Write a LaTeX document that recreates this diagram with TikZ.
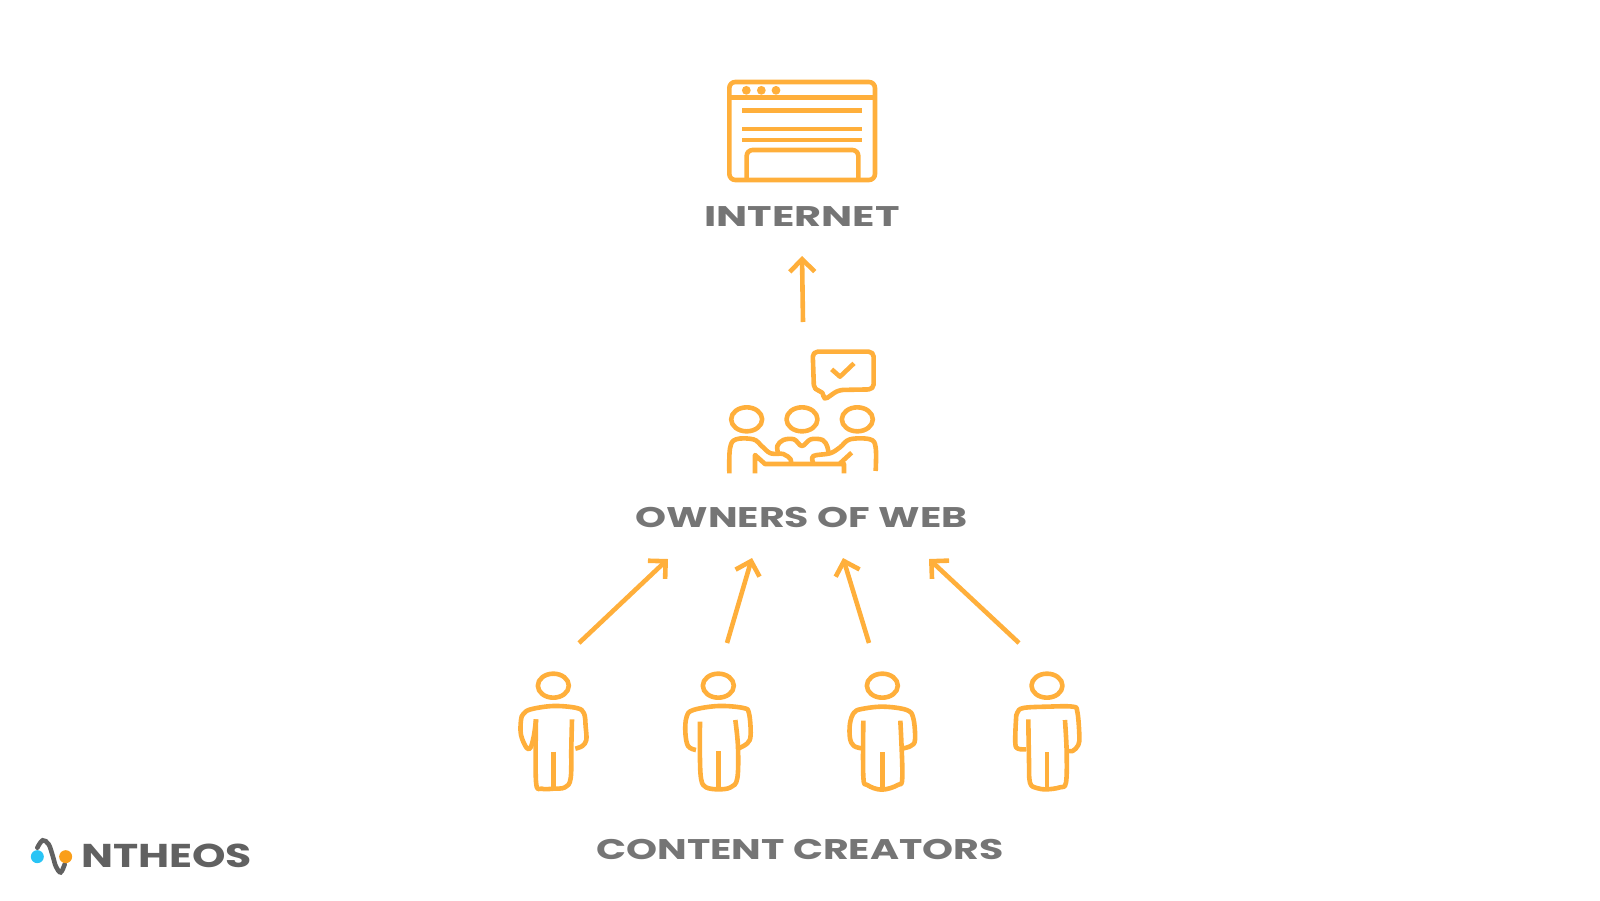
\documentclass[tikz,border=0pt]{standalone}
\usepackage{fontspec}
\usetikzlibrary{arrows.meta}
\newfontfamily\headfont{Poppins}[FakeStretch=1.39]
\newfontfamily\webfont{Poppins}[FakeStretch=1.46]
\newfontfamily\logofont{Poppins}[FakeStretch=1.29]
\definecolor{colO}{rgb}{1,.686,.231}
\definecolor{colG}{rgb}{.46,.46,.46}
\definecolor{colL}{rgb}{.38,.38,.38}
\definecolor{colC}{rgb}{.16,.77,.96}
\definecolor{colA}{rgb}{.98,.62,.1}
\tikzstyle{icon}=[line width=4.6pt,colO,line cap=butt,line join=round]
\tikzstyle{zoomed}=[x=.3333pt,y=-.3333pt]
\tikzstyle{up}=[line width=4.6pt,colO,-{Straight Barb[length=12.5pt,width=25pt,line width=4.6pt]}]
\tikzstyle{heading}=[colG,inner sep=0pt,font=\headfont\bfseries\fontsize{28.4}{30}\selectfont]
\tikzstyle{curve}=[smooth,tension=.6]
\begin{document}
\begin{tikzpicture}[x=1pt,y=-1pt]
		\useasboundingbox (0,0) rectangle (1600,900);
		\node[heading,font=\webfont\bfseries\fontsize{28.4}{30}\selectfont] (internet) at (802,217) {INTERNET};
		\node[heading] (owners) at (801.5,517) {OWNERS OF WEB};
		\node[heading] (creators) at (800,849) {CONTENT CREATORS};
		\begin{scope}[shift={(700,60)},zoomed]
			\draw[icon,rounded corners=6pt] (88,66) rectangle (525,360);
			\draw[icon] (88,113)--(525,113) (127,152)--(486,152) (127,207)--(486,207) (127,240)--(486,240);
			\draw[icon,rounded corners=6pt] (140,360)--(140,270)--(475,270)--(475,360);
			\fill[colO] (139,91) circle (4.4pt) (184,91) circle (4.4pt) (228,91) circle (4.4pt);
		\end{scope}
		\begin{scope}[shift={(700,340)},zoomed]
			\draw[icon,rounded corners=5pt] (338,35)--(521,35)--(521,148)--(415,150)--(370,182)--(372,155)--(342,150)--cycle;
			\draw[icon] (395,88)--(420,110)--(462,70);
			\draw[icon] (140,238) circle[x radius=15.5pt,y radius=12pt] (306,238) circle[x radius=15.5pt,y radius=12pt] (472,238) circle[x radius=15.5pt,y radius=12pt];
			\draw[icon] plot[curve] coordinates {(88,400) (90,325) (108,298) (160,298) (185,318) (212,340) (250,342) (272,358) (272,370)};
			\draw[icon] plot[curve] coordinates {(235,342) (232,318) (250,300) (282,298) (306,318) (332,298) (368,300) (382,320) (385,338)};
			\draw[icon] plot[curve] coordinates {(340,370) (340,348) (390,340) (420,322) (450,298) (510,298) (527,322) (527,393)};
			\draw[icon] (165,400)--(165,345)--(195,372)--(405,372)--(432,372)--(432,400) (418,372)--(455,338);
		\end{scope}
		\begin{scope}[shift={(500,660)},zoomed]
			\draw[icon] (160,77) circle[x radius=15.5pt,y radius=12pt];
			\draw[icon] plot[curve] coordinates {(108,178) (102,225) (92,262) (80,264) (63,225) (63,180) (70,162) (92,148) (160,138) (230,144) (252,160) (257,200) (259,240) (247,258) (226,266)};
			\draw[icon] plot[curve] coordinates {(216,178) (214,260) (212,355) (195,382) (160,386) (125,386) (108,365) (108,178)};
			\draw[icon] (160,275)--(160,386);
			\draw[icon] (655,77) circle[x radius=15.5pt,y radius=12pt];
			\draw[icon] plot[curve] coordinates {(588,270) (564,258) (556,215) (560,170) (580,150) (655,138) (730,144) (747,160) (752,225) (742,250) (716,265)};
			\draw[icon] plot[curve] coordinates {(600,185) (600,300) (604,360) (618,382) (655,388) (692,382) (712,355) (714,260) (706,180)};
			\draw[icon] (655,273)--(655,386);
		\end{scope}
		\begin{scope}[shift={(820,660)},zoomed]
			\draw[icon] (187,77) circle[x radius=15.5pt,y radius=12pt];
			\draw[icon] plot[curve] coordinates {(126,265) (102,258) (90,235) (90,190) (102,158) (125,147) (190,140) (260,150) (280,175) (285,240) (272,258) (250,265)};
			\draw[icon] plot[curve] coordinates {(130,182) (130,350) (142,375) (185,389) (233,375) (247,350) (241,182)};
			\draw[icon] (187,277)--(187,386);
			\draw[icon] (681,77) circle[x radius=15.5pt,y radius=12pt];
			\draw[icon] plot[curve] coordinates {(618,268) (594,266) (586,250) (588,180) (592,158) (610,144) (681,140) (758,140) (772,155) (778,225) (775,255) (758,273) (742,272)};
			\draw[icon] plot[curve] coordinates {(625,178) (627,300) (630,368) (650,384) (681,388) (720,382) (738,368) (740,275) (735,180)};
			\draw[icon] (681,277)--(681,386);
		\end{scope}
		\coordinate (webtail) at (803,322);
		\coordinate (webtip) at (802,256);
		\coordinate (tailA) at (579,643);
		\coordinate (tipA) at (668,559);
		\coordinate (tailB) at (727,643);
		\coordinate (tipB) at (752,558);
		\coordinate (tailC) at (869,643);
		\coordinate (tipC) at (843,558);
		\coordinate (tailD) at (1019,643);
		\coordinate (tipD) at (929,559);
		\draw[up] (webtail)--(webtip);
		\draw[up] (tailA)--(tipA);
		\draw[up] (tailB)--(tipB);
		\draw[up] (tailC)--(tipC);
		\draw[up] (tailD)--(tipD);
		\begin{scope}[shift={(20,825)},zoomed]
			\draw[line width=4.6pt,colL,line cap=round] plot[curve] coordinates {(52,68) (68,46) (86,58) (98,92) (108,125) (122,142) (134,118)};
			\fill[colC] (52,95) circle (6.5pt);
			\fill[colA] (137,95) circle (6.5pt);
		\end{scope}
		\node[colL,inner sep=0pt,font=\logofont\bfseries\fontsize{33}{36}\selectfont] (logo) at (166.5,856) {NTHEOS};
	\end{tikzpicture}
\end{document}
